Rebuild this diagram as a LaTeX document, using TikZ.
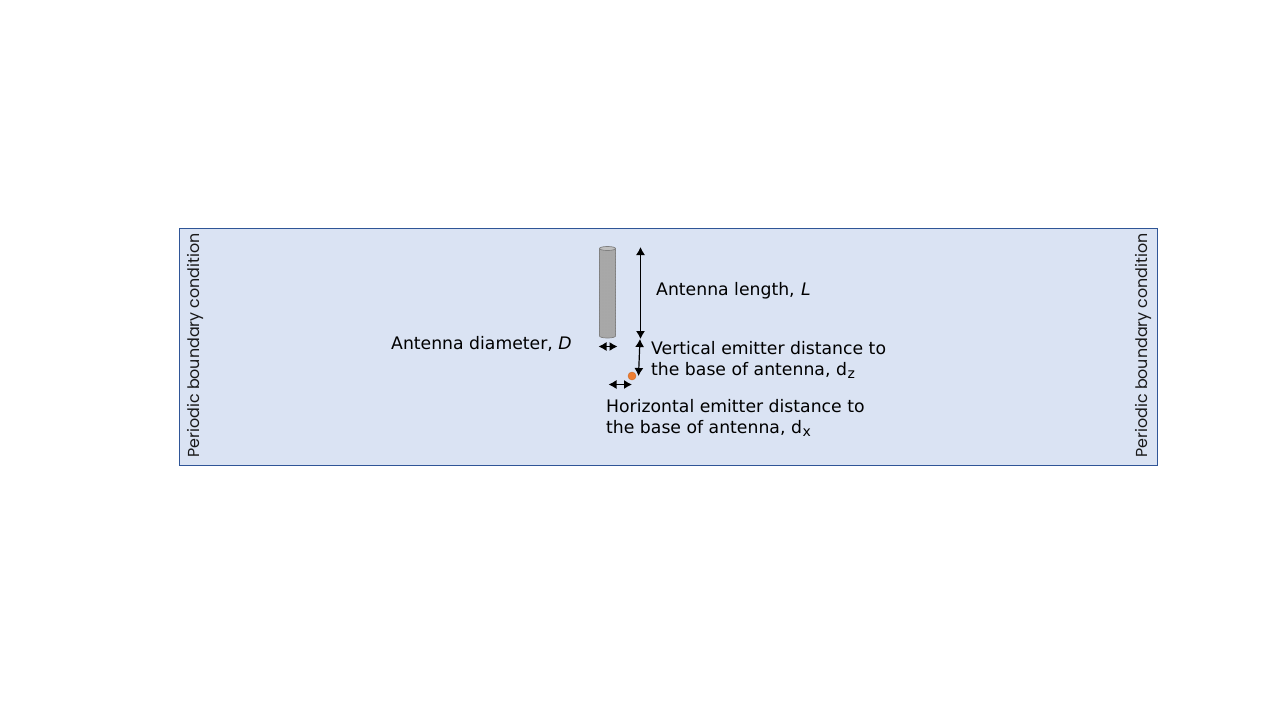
\documentclass[tikz,border=0pt]{standalone}
\usepackage{fontspec}
\setmainfont{DejaVu Sans}
\newfontfamily\sidefont{Poppins}
\usetikzlibrary{arrows.meta,patterns}
\definecolor{panelfill}{HTML}{DAE3F3}
\definecolor{panelline}{HTML}{2F5597}
\definecolor{rodfill}{HTML}{A8A8A8}
\definecolor{rodline}{HTML}{7F7F7F}
\definecolor{dotfill}{HTML}{ED7D31}
\newcommand{\subtxt}[1]{\hspace{0.8pt}\raisebox{-3.5pt}{\fontsize{14}{14}\selectfont #1}}
\tikzset{
  x=1pt,y=-1pt,
  lbl/.style={anchor=west,inner sep=0pt,align=left,font=\fontsize{17.25}{21}\selectfont,text=black},
  side/.style={rotate=90,inner sep=0pt,font=\sidefont\fontsize{15.9}{18}\selectfont,text=black!90},
  dim/.style={draw=black,line width=1.2pt,{Latex[length=8pt,width=9pt]}-{Latex[length=8pt,width=9pt]}}
}
\begin{document}
\begin{tikzpicture}
\useasboundingbox (0,0) rectangle (1280,720);
\fill[white] (0,0) rectangle (1280,720);
\node[draw=panelline,fill=panelfill,line width=0.8pt,minimum width=977.5pt,minimum height=237pt,inner sep=0pt,anchor=north west] (panel) at (179.2,228) {};
\node[side] (left) at (195.5,345.5) {Periodic boundary condition};
\node[side] (right) at (1143.5,345.5) {Periodic boundary condition};
% antenna
\fill[rodfill,draw=rodline,line width=0.7pt] (599.5,248.5) -- (599.5,336) arc[x radius=8,y radius=2,start angle=180,end angle=0] -- (615.5,248.5) -- cycle;
\fill[pattern=dots,pattern color=black!35] (599.5,248.5) -- (599.5,336) arc[x radius=8,y radius=2,start angle=180,end angle=0] -- (615.5,248.5) -- cycle;
\draw[rodline,fill=black!25,line width=0.7pt] (607.5,248.5) ellipse[x radius=8,y radius=2];
\node[circle,fill=dotfill,draw=dotfill!85!black,line width=0.4pt,minimum size=8pt,inner sep=0pt] (emitter) at (632,376) {};
% dimension ends
\coordinate (Lt) at (640.5,247);
\coordinate (Lb) at (640.5,339);
\coordinate (Zt) at (640,339);
\coordinate (Zb) at (638.5,376);
\coordinate (Dl) at (598.5,346.5);
\coordinate (Dr) at (617.5,346.5);
\coordinate (Xl) at (608.5,384.5);
\coordinate (Xr) at (632,384.5);
\draw[dim] (Lt) -- (Lb);
\draw[dim] (Zt) -- (Zb);
\draw[dim] (Dl) -- (Dr);
\draw[dim] (Xl) -- (Xr);
\node[lbl] (lenlabel) at (656,290.5) {Antenna length,\hspace{1pt} \textit{L}};
\node[lbl] (diamlabel) at (391,343.5) {Antenna diameter, \textit{D}};
\node[lbl] (vlabel) at (651,360) {Vertical emitter distance to\\the base of antenna, d\subtxt{z}};
\node[lbl] (hlabel) at (606,418) {Horizontal emitter distance to\\the base of antenna, d\subtxt{x}};
\end{tikzpicture}
\end{document}
